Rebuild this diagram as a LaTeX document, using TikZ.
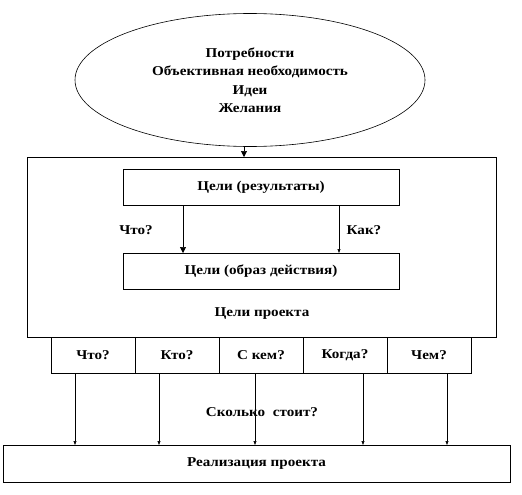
\documentclass[tikz,border=0pt]{standalone}
\usepackage{fontspec}
\setmainfont{Liberation Serif}[FakeStretch=1.12]
\usetikzlibrary{arrows.meta,shapes.geometric}
\begin{document}
\begin{tikzpicture}[x=1pt,y=-1pt,
  every node/.style={font=\bfseries\fontsize{13.5}{18.5}\selectfont},
  box/.style={draw,line width=0.8pt,inner sep=0pt},
  lbl/.style={inner sep=0pt},
  bigarr/.style={-{Triangle[length=6pt,width=6pt]},line width=0.6pt},
  smallarr/.style={-{Triangle[length=4pt,width=3pt]},line width=0.6pt}]
\useasboundingbox (0,0) rectangle (522,495);
\node[draw,ellipse,line width=0.6pt,minimum width=350pt,minimum height=133pt,inner sep=0pt,align=center] (ell) at (250,80) {Потребности\\Объективная необходимость\\Идеи\\Желания};
\node[box,minimum width=469pt,minimum height=180pt] (big) at (261.5,247) {};
\node[box,minimum width=276pt,minimum height=36pt] (r1) at (261,187) {Цели (результаты)};
\node[box,minimum width=276pt,minimum height=36pt] (r2) at (261,271) {Цели (образ действия)};
\coordinate (t1) at (244,146);
\coordinate (t2) at (244,157);
\draw[bigarr] (t1) -- (t2);
\coordinate (a1) at (183,205);
\coordinate (a2) at (183,253);
\draw[bigarr] (a1) -- (a2);
\coordinate (b1) at (339,205);
\coordinate (b2) at (339,253);
\draw[smallarr] (b1) -- (b2);
\node[lbl] (q1) at (136,230) {Что?};
\node[lbl] (q2) at (364,230) {Как?};
\node[lbl] (gp) at (262,314) {Цели проекта};
\foreach \n/\x/\t in {c1/93/Что?,c2/177/Кто?,c3/261/С кем?,c4/345/Когда?,c5/429/Чем?}{
  \node[box,minimum width=84pt,minimum height=36pt] (\n) at (\x,355) {\t};
}
\node[box,minimum width=507pt,minimum height=37pt] (real) at (256.5,463.5) {Реализация проекта};
\node[lbl] (cost) at (262,412) {Сколько\ \ стоит?};
\foreach \x in {75,159,255,363,447}{
  \draw[smallarr] (\x,373) -- (\x,445);
}
\end{tikzpicture}
\end{document}
